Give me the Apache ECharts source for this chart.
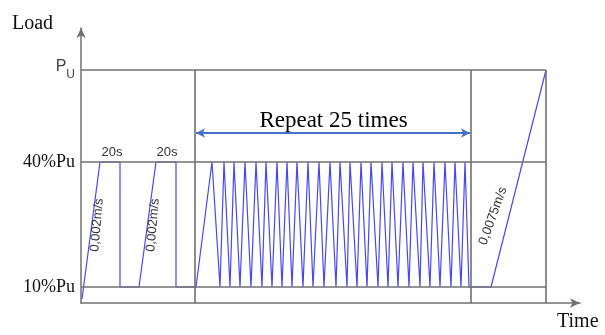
<!DOCTYPE html>
<html><head><meta charset="utf-8">
<script src="https://cdn.jsdelivr.net/npm/echarts@6/dist/echarts.min.js"></script>
<style>html,body{margin:0;padding:0;background:#fff}#c{width:605px;height:335px}</style>
</head><body><div id="c"></div>
<script>
// Schematic units (load axis is not to scale in the original figure)
const levelNames = ['10%Pu', '40%Pu', 'Pu'];
const levelValues = [16, 141, 233];
const phaseBounds = [114, 390, 465];
// Stage 1: two ramps at 0.002 m/s, 20 s holds
const holdTimes = [1, 19, 39, 39, 58, 75, 95, 95, 115];
const holdLoads = [4, 141, 141, 16, 16, 141, 141, 16, 16];
// Stage 2: 25 load cycles between 10%Pu and 40%Pu
const peakTimes = [131,143,153,164,175,185,196,206,216,227,238,249,259,269,280,290,301,311,322,332,342,353,364,374,384];
const troughTimes = [139,149,159,170,181,191,201,211,222,232,243,255,266,276,286,297,307,317,328,339,349,359,370,380,388];
const peakLoad = 141;
const troughLoad = 16;
// Stage 3: ramp to failure at 0.0075 m/s
const finalTimes = [410, 465];
const finalLoads = [16, 233];
// Annotations
const noteTexts = ['20s', '20s', '0,002m/s', '0,002m/s', '0,0075m/s'];
const noteTimes = [31, 86, 16, 72, 412];
const noteLoads = [151, 151, 78, 78, 87];
const noteRotations = [0, 0, 85, 85, 70];
const repeatText = 'Repeat 25 times';
const repeatSpan = [115, 389];
const repeatLoad = 170;

const profile = [];
holdTimes.forEach((t, i) => profile.push([t, holdLoads[i]]));
peakTimes.forEach((t, i) => { profile.push([t, peakLoad]); profile.push([troughTimes[i], troughLoad]); });
finalTimes.forEach((t, i) => profile.push([t, finalLoads[i]]));

const frame = [];
levelValues.forEach(v => frame.push([{coord: [0, v]}, {coord: [phaseBounds[2], v]}]));
phaseBounds.forEach(b => frame.push([{coord: [b, 0]}, {coord: [b, levelValues[2]]}]));

const notes = noteTexts.map((txt, i) => ({
  value: [noteTimes[i], noteLoads[i]], name: txt,
  label: {rotate: noteRotations[i]}
}));

const serif = '"Liberation Serif", "DejaVu Serif", serif';
const sans = '"Liberation Sans", Arial, sans-serif';
const gridColor = '#707070';

const chart = echarts.init(document.getElementById('c'), null, {renderer: 'canvas'});
chart.setOption({
  animation: false,
  backgroundColor: '#fff',
  grid: {left: 81, right: 25, top: 28, bottom: 32},
  xAxis: {
    type: 'value', min: 0, max: 499,
    axisLine: {show: true, symbol: ['none', 'arrow'], symbolSize: [7, 10], lineStyle: {color: gridColor, width: 1.5}},
    axisTick: {show: false}, axisLabel: {show: false}, splitLine: {show: false}
  },
  yAxis: {
    type: 'value', min: 0, max: 275,
    axisLine: {show: true, symbol: ['none', 'arrow'], symbolSize: [7, 10], lineStyle: {color: gridColor, width: 1.5}},
    axisTick: {show: false}, splitLine: {show: false},
    axisLabel: {
      show: true, customValues: levelValues, margin: 6,
      formatter: v => {
        const n = levelNames[levelValues.indexOf(v)];
        return n === 'Pu' ? '{p|P}{u|U}' : '{s|' + n + '}';
      },
      rich: {
        s: {fontFamily: serif, fontSize: 18, color: '#111'},
        p: {fontFamily: sans, fontSize: 16, color: '#444', verticalAlign: 'top', lineHeight: 22, padding: [0, 0, 8, 0]},
        u: {fontFamily: sans, fontSize: 12, color: '#444', verticalAlign: 'bottom', lineHeight: 22, padding: [6, 0, 0, 0]}
      }
    }
  },
  graphic: [
    {type: 'text', left: 12, top: 14, style: {text: 'Load', font: '20px ' + serif, fill: '#111'}},
    {type: 'text', left: 557, top: 312, style: {text: 'Time', font: '20px ' + serif, fill: '#111'}}
  ],
  series: [
    {
      type: 'line', data: [], silent: true, z: 1,
      markLine: {
        silent: true, symbol: ['none', 'none'], label: {show: false},
        lineStyle: {color: gridColor, width: 1.6, type: 'solid'},
        data: frame
      }
    },
    {
      type: 'line', data: profile, showSymbol: false, z: 3,
      lineStyle: {color: '#4848EE', width: 1.2}
    },
    {
      type: 'line', data: [], silent: true, z: 4,
      markLine: {
        silent: true, symbol: ['arrow', 'arrow'], symbolSize: [7, 9],
        label: {show: false},
        lineStyle: {color: '#4472C4', width: 2, type: 'solid'},
        data: [[{coord: [repeatSpan[0], repeatLoad]}, {coord: [repeatSpan[1], repeatLoad]}]]
      }
    },
    {
      type: 'scatter', symbolSize: 0, z: 5, silent: true,
      itemStyle: {opacity: 1},
      data: notes,
      label: {show: true, position: 'inside', formatter: p => p.name,
        fontFamily: sans, fontSize: 13, color: '#333', textBorderWidth: 0}
    },
    {
      type: 'scatter', symbolSize: 0, z: 5, silent: true,
      itemStyle: {opacity: 1},
      data: [{value: [(repeatSpan[0] + repeatSpan[1]) / 2 + 0.5, repeatLoad + 12], name: repeatText}],
      label: {show: true, position: 'inside', formatter: p => p.name,
        fontFamily: serif, fontSize: 23, color: '#000', textBorderWidth: 0}
    }
  ]
});
</script></body></html>
